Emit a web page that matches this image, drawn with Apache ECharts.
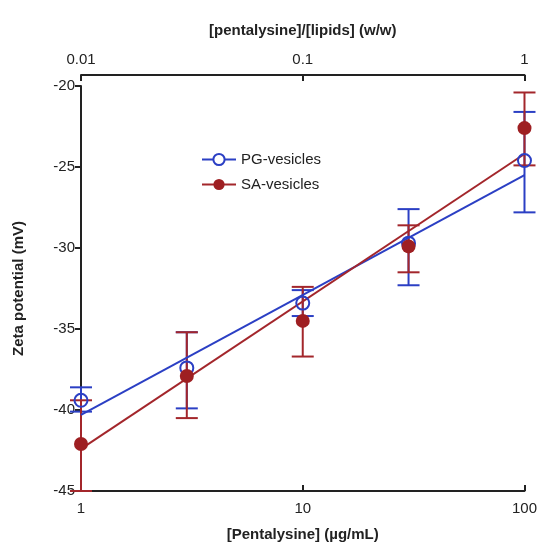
<!DOCTYPE html>
<html>
<head>
<meta charset="utf-8">
<script src="https://cdn.jsdelivr.net/npm/echarts@6/dist/echarts.min.js"></script>
<style>
  html, body { margin: 0; padding: 0; background: #fff; }
  #chart { width: 540px; height: 548px; }
</style>
</head>
<body>
<div id="chart"></div>
<script>
// concentrations (ug/mL) and the measured zeta potentials
var conc = [1, 3, 10, 30, 100];
var pgMean = [-39.4, -37.4, -33.4, -29.7, -24.6];
var pgLow = [-40.1, -39.9, -34.2, -32.3, -27.8];
var pgHigh = [-38.6, -35.2, -32.6, -27.6, -21.6];
var saMean = [-42.1, -37.9, -34.5, -29.9, -22.6];
var saLow = [-45.0, -40.5, -36.7, -31.5, -24.9];
var saHigh = [-39.4, -35.2, -32.4, -28.6, -20.4];
// fitted lines, end points
var fitX = [1, 100];
var pgFit = [-40.3, -25.5];
var saFit = [-42.4, -24.2];
// top axis ticks
var ratioTicks = [0.01, 0.1, 1];

var blue = "#2b3fc4";
var red = "#a3262b";
var font = "Liberation Sans";

function pairs(xs, ys) {
    return xs.map(function (x, i) { return [x, ys[i]]; });
}
function bars(lo, hi) {
    return conc.map(function (x, i) { return [x, lo[i], hi[i]]; });
}

function errorItem(color) {
    return function (params, api) {
        var x = api.value(0);
        var p1 = api.coord([x, api.value(1)]);
        var p2 = api.coord([x, api.value(2)]);
        var w = 11;
        var style = { stroke: color, lineWidth: 2 };
        return {
            type: "group",
            children: [
                { type: "line", shape: { x1: p1[0], y1: p1[1], x2: p2[0], y2: p2[1] }, style: style },
                { type: "line", shape: { x1: p1[0] - w, y1: p1[1], x2: p1[0] + w, y2: p1[1] }, style: style },
                { type: "line", shape: { x1: p2[0] - w, y1: p2[1], x2: p2[0] + w, y2: p2[1] }, style: style },
            ],
        };
    };
}

var chart = echarts.init(document.getElementById("chart"));

var option = {
    backgroundColor: "#ffffff",
    animation: false,
    grid: { left: 81, right: 14, top: 86, bottom: 57 },
    legend: {
        left: 196,
        top: 147,
        orient: "vertical",
        itemGap: 10,
        itemWidth: 34,
        itemHeight: 14,
        textStyle: { fontFamily: font, fontSize: 15, color: "#222" },
        data: ["PG-vesicles", "SA-vesicles"],
    },
    xAxis: [
        {
            type: "log",
            logBase: 10,
            min: 1,
            max: 100,
            position: "bottom",
            name: "[Pentalysine] (\u00b5g/mL)",
            nameLocation: "middle",
            nameGap: 36,
            nameTextStyle: { fontFamily: font, fontSize: 15, fontWeight: "bold", color: "#222" },
            axisLine: { lineStyle: { color: "#222", width: 2 } },
            axisTick: { inside: true, length: 6, lineStyle: { color: "#222", width: 2 } },
            minorTick: { show: false },
            splitLine: { show: false },
            axisLabel: { fontFamily: font, fontSize: 15, color: "#222", margin: 10 },
        },
        {
            type: "log",
            logBase: 10,
            min: ratioTicks[0],
            max: ratioTicks[2],
            position: "top",
            offset: 11,
            name: "[pentalysine]/[lipids] (w/w)",
            nameLocation: "middle",
            nameGap: 37,
            nameTextStyle: { fontFamily: font, fontSize: 15, fontWeight: "bold", color: "#222" },
            axisLine: { lineStyle: { color: "#222", width: 2 } },
            axisTick: { inside: true, length: 6, lineStyle: { color: "#222", width: 2 } },
            splitLine: { show: false },
            axisLabel: { fontFamily: font, fontSize: 15, color: "#222", margin: 8 },
        },
    ],
    yAxis: {
        type: "value",
        min: -45,
        max: -20,
        interval: 5,
        name: "Zeta potential (mV)",
        nameLocation: "middle",
        nameGap: 55,
        nameTextStyle: { fontFamily: font, fontSize: 15, fontWeight: "bold", color: "#222" },
        axisLine: { show: true, lineStyle: { color: "#222", width: 2 } },
        axisTick: { show: true, length: 6, lineStyle: { color: "#222", width: 2 } },
        splitLine: { show: false },
        axisLabel: { fontFamily: font, fontSize: 15, color: "#222", margin: 6 },
    },
    series: [
        {
            name: "PG-err",
            type: "custom",
            xAxisIndex: 0,
            renderItem: errorItem(blue),
            data: bars(pgLow, pgHigh),
            z: 2,
        },
        {
            name: "SA-err",
            type: "custom",
            xAxisIndex: 0,
            renderItem: errorItem(red),
            data: bars(saLow, saHigh),
            z: 2,
        },
        {
            name: "PG-vesicles",
            type: "line",
            xAxisIndex: 0,
            data: pairs(fitX, pgFit),
            showSymbol: false,
            symbol: "circle",
            symbolSize: 12,
            lineStyle: { color: blue, width: 2 },
            itemStyle: { color: "#fff", borderColor: blue, borderWidth: 2 },
            z: 3,
        },
        {
            name: "SA-vesicles",
            type: "line",
            xAxisIndex: 0,
            data: pairs(fitX, saFit),
            showSymbol: false,
            symbol: "circle",
            symbolSize: 13,
            lineStyle: { color: red, width: 2 },
            itemStyle: { color: "#9e1f22" },
            z: 3,
        },
        {
            name: "PG-pts",
            type: "scatter",
            xAxisIndex: 0,
            data: pairs(conc, pgMean),
            symbol: "circle",
            symbolSize: 13,
            itemStyle: { color: "rgba(255,255,255,0)", borderColor: blue, borderWidth: 2, opacity: 1 },
            z: 4,
        },
        {
            name: "SA-pts",
            type: "scatter",
            xAxisIndex: 0,
            data: pairs(conc, saMean),
            symbol: "circle",
            symbolSize: 14,
            itemStyle: { color: "#9e1f22", opacity: 1 },
            z: 5,
        },
    ],
};

chart.setOption(option);
</script>
</body>
</html>
